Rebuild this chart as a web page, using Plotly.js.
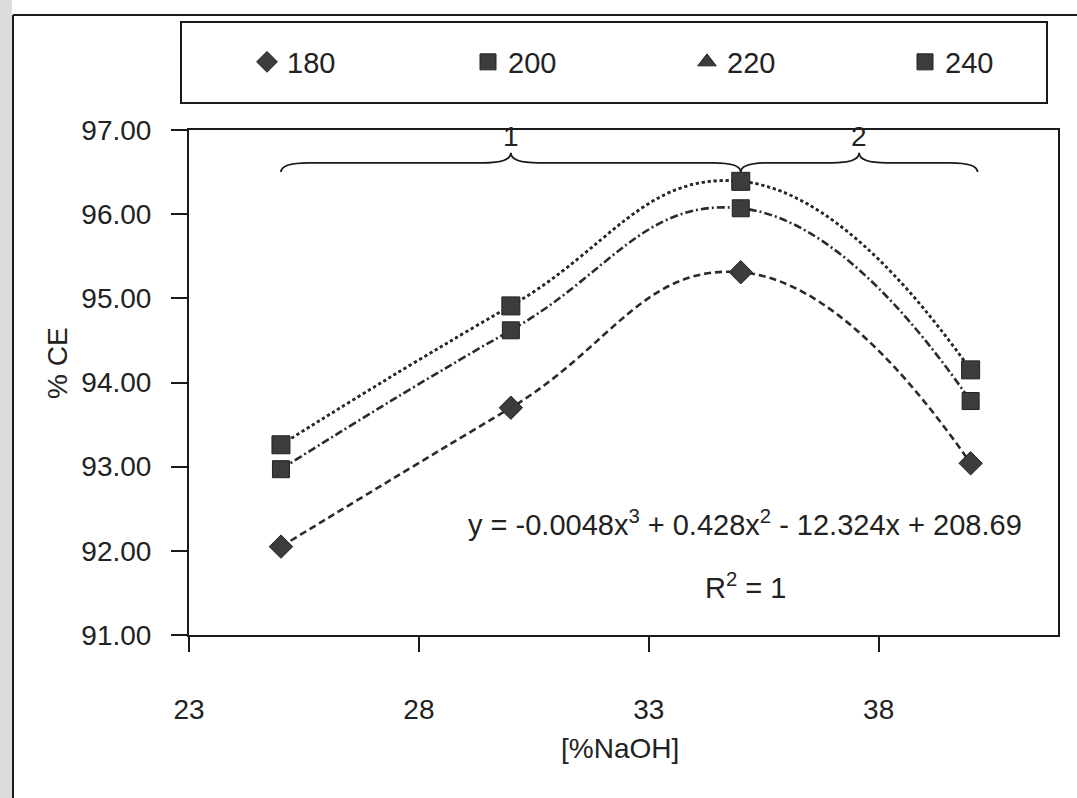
<!DOCTYPE html>
<html><head><meta charset="utf-8">
<script src="https://cdn.plot.ly/plotly-3.0.1.min.js"></script>
<style>body{margin:0;background:#fff}#chart{width:1077px;height:798px}</style>
</head><body><div id="chart"></div>
<script>
// ---- data ----
const naoh = [25, 30, 35, 40];
const ce180 = [92.05, 93.70, 95.31, 93.04];
const ce200 = [92.97, 94.62, 96.07, 93.78];
const ce220 = [93.26, 94.91, 96.39, 94.15];
const ce240 = [93.26, 94.91, 96.39, 94.15];
const seriesNames = ['180', '200', '220', '240'];
const xTickVals = [23, 28, 33, 38];
const yTickVals = [91, 92, 93, 94, 95, 96, 97];
const equationText = 'y = -0.0048x<sup>3</sup> + 0.428x<sup>2</sup> - 12.324x + 208.69';
const r2Text = 'R<sup>2</sup> = 1';
const xTitle = '[%NaOH]';
const yTitle = '% CE';
const braceLabels = ['1', '2'];

// ---- styling ----
const FONT = 'Liberation Sans, Arial, sans-serif';
const ink = '#2b2b2b';
const mk = '#3c3c3c';
const symbols = ['diamond', 'square', 'triangle-up', 'square'];
const sizes = [18, 17, 14, 18];
const legendSizes = [17, 16, 18, 16];
const dashes = ['7px,4px', '8px,3px,2px,3px', '3px,3px', '3px,3px'];
const allY = [ce180, ce200, ce220, ce240];

// plot area in pixels: left 189, right 1058, top 130, bottom 635
const L = 189, R = 1058, T = 130, B = 635;
const px = v => (v - L) / (R - L);
const py = v => (B - v) / (B - T);
const legendMarkerX = [267, 488, 707, 925];
const legendIds = ['legend', 'legend2', 'legend3', 'legend4'];

const traces = [];
allY.forEach((ys, i) => {
  traces.push({
    x: naoh, y: ys, type: 'scatter', mode: 'lines+markers', showlegend: false,
    line: {shape: 'spline', smoothing: 1.3, color: ink, width: 2.6, dash: dashes[i]},
    marker: {symbol: symbols[i], size: sizes[i], color: mk, line: {color: '#222', width: 1}},
    name: seriesNames[i]
  });
});
// legend-only entries (marker only, like the reference legend)
seriesNames.forEach((n, i) => {
  traces.push({
    x: [null], y: [null], type: 'scatter', mode: 'markers', name: n, showlegend: true,
    legend: legendIds[i],
    marker: {symbol: symbols[i], size: legendSizes[i], color: mk, line: {color: '#222', width: 1}}
  });
});

// ---- curly braces (data coordinates) ----
function brace(x0, x1, yEnd, yLine, yTip, d) {
  const xm = (x0 + x1) / 2;
  return `M ${x0},${yEnd} Q ${x0},${yLine} ${x0 + d},${yLine} L ${xm - d},${yLine} ` +
         `Q ${xm},${yLine} ${xm},${yTip} Q ${xm},${yLine} ${xm + d},${yLine} ` +
         `L ${x1 - d},${yLine} Q ${x1},${yLine} ${x1},${yEnd}`;
}
const bEnd = 96.50, bLine = 96.61, bTip = 96.73;
const brace1 = [naoh[0], naoh[2]];
const brace2 = [naoh[2], naoh[3] + 0.15];

const txt = (size) => ({family: FONT, size: size, color: '#222'});

const layout = {
  width: 1077, height: 798,
  margin: {l: L, r: 1077 - R, t: T, b: 798 - B, pad: 0},
  paper_bgcolor: '#ffffff', plot_bgcolor: '#ffffff',
  font: txt(28),
  showlegend: true,
  xaxis: {
    range: [23, 41.9], tickvals: xTickVals, ticktext: xTickVals.map(String),
    showgrid: false, zeroline: false,
    showline: true, linecolor: '#1a1a1a', linewidth: 2, mirror: true,
    ticks: 'outside', ticklen: 15, tickwidth: 2, tickcolor: '#1a1a1a',
    ticklabelstandoff: 33,
    tickfont: txt(28)
  },
  yaxis: {
    range: [91, 97], tickvals: yTickVals, tickformat: '.2f',
    showgrid: false, zeroline: false,
    showline: true, linecolor: '#1a1a1a', linewidth: 2, mirror: true,
    ticks: 'outside', ticklen: 16, tickwidth: 2, tickcolor: '#1a1a1a',
    ticklabelstandoff: 14,
    tickfont: txt(28)
  },
  shapes: [
    {type: 'rect', xref: 'paper', yref: 'paper', x0: px(0), x1: px(12), y0: py(798), y1: py(0),
     fillcolor: '#dcdcdc', line: {width: 0}, layer: 'below'},
    {type: 'line', xref: 'paper', yref: 'paper', x0: px(13), x1: px(13), y0: py(798), y1: py(15),
     line: {color: '#1a1a1a', width: 2}},
    {type: 'line', xref: 'paper', yref: 'paper', x0: px(13), x1: px(1077), y0: py(15), y1: py(15),
     line: {color: '#1a1a1a', width: 2}},
    {type: 'rect', xref: 'paper', yref: 'paper', x0: px(181), x1: px(1047), y0: py(103), y1: py(22),
     line: {color: '#1a1a1a', width: 2}, fillcolor: 'rgba(0,0,0,0)'},
    {type: 'path', xref: 'x', yref: 'y', path: brace(brace1[0], brace1[1], bEnd, bLine, bTip, 0.6),
     line: {color: '#1a1a1a', width: 1.8}},
    {type: 'path', xref: 'x', yref: 'y', path: brace(brace2[0], brace2[1], bEnd, bLine, bTip, 0.6),
     line: {color: '#1a1a1a', width: 1.8}}
  ],
  annotations: [
    {text: yTitle, xref: 'paper', yref: 'paper', x: px(57), y: py(363), textangle: -90,
     xanchor: 'center', yanchor: 'middle', showarrow: false, font: txt(28)},
    {text: xTitle, xref: 'paper', yref: 'paper', x: px(620), y: py(748),
     xanchor: 'center', yanchor: 'middle', showarrow: false, font: txt(28)},
    {text: equationText, xref: 'paper', yref: 'paper', x: px(745), y: py(523),
     xanchor: 'center', yanchor: 'middle', showarrow: false, font: txt(29)},
    {text: r2Text, xref: 'paper', yref: 'paper', x: px(745), y: py(586),
     xanchor: 'center', yanchor: 'middle', showarrow: false, font: txt(29)},
    {text: braceLabels[0], xref: 'x', yref: 'y', x: (brace1[0] + brace1[1]) / 2, y: 96.92,
     xanchor: 'center', yanchor: 'middle', showarrow: false, font: txt(28)},
    {text: braceLabels[1], xref: 'x', yref: 'y', x: (brace2[0] + brace2[1]) / 2, y: 96.92,
     xanchor: 'center', yanchor: 'middle', showarrow: false, font: txt(28)}
  ]
};
legendIds.forEach((id, i) => {
  layout[id] = {
    orientation: 'h', x: px(legendMarkerX[i] - 20), xanchor: 'left', y: py(62), yanchor: 'middle',
    bgcolor: 'rgba(0,0,0,0)', borderwidth: 0, font: txt(29), itemclick: false,
    itemsizing: 'trace'
  };
});

Plotly.newPlot('chart', traces, layout, {staticPlot: true, displayModeBar: false});
</script>
</body></html>
